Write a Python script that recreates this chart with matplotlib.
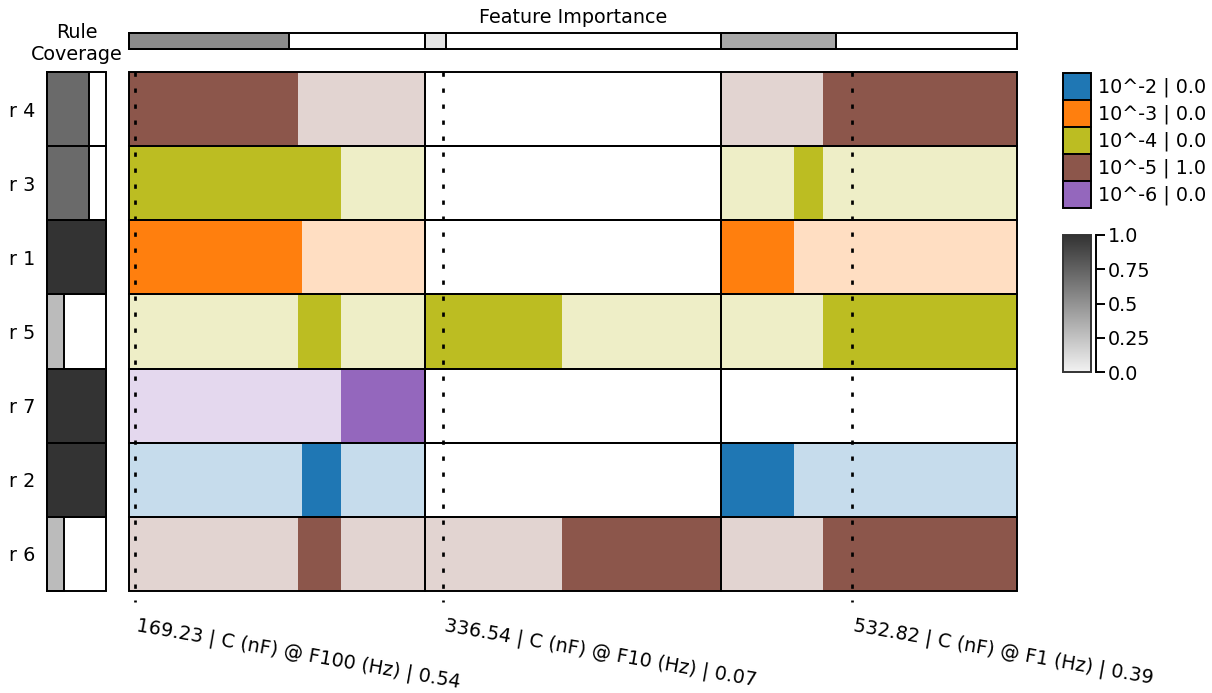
import matplotlib
matplotlib.use("Agg")
import matplotlib.pyplot as plt
from matplotlib.patches import Rectangle, Patch
from matplotlib.colors import LinearSegmentedColormap
import numpy as np

# ---- data -------------------------------------------------------------
features = ["C (nF) @ F100 (Hz)", "C (nF) @ F10 (Hz)", "C (nF) @ F1 (Hz)"]
importances = [0.54, 0.07, 0.39]
instance_values = [169.23, 336.54, 532.82]
# where the explained instance sits inside each feature's range (0..1)
instance_pos = [0.020, 0.061, 0.443]

rule_names = ["r 4", "r 3", "r 1", "r 5", "r 7", "r 2", "r 6"]
rule_class = [3, 2, 1, 2, 4, 0, 3]
rule_coverage = [0.71, 0.71, 1.0, 0.29, 1.0, 1.0, 0.29]
# per rule, per feature: covered interval as a fraction of the feature range
rule_conditions = [
    [(0.0, 0.572), None, (0.345, 1.0)],
    [(0.0, 0.716), None, (0.246, 0.345)],
    [(0.0, 0.585), None, (0.0, 0.246)],
    [(0.572, 0.716), (0.0, 0.464), (0.345, 1.0)],
    [(0.716, 1.0), None, None],
    [(0.585, 0.716), None, (0.0, 0.246)],
    [(0.572, 0.716), (0.464, 1.0), (0.345, 1.0)],
]

class_labels = ["10^-2", "10^-3", "10^-4", "10^-5", "10^-6"]
class_probs = [0.0, 0.0, 0.0, 1.0, 0.0]
class_colors = ["#1f77b4", "#ff7f0e", "#bcbd22", "#8c564b", "#9467bd"]

cbar_ticks = [0.0, 0.25, 0.5, 0.75, 1.0]
cbar_ticklabels = ["0.0", "0.25", "0.5", "0.75", "1.0"]

# ---- styling ----------------------------------------------------------
W, H, DPI = 1212, 693, 100
FS = 13.8
EDGE = "black"
LW = 1.4
PX = 72.0 / DPI  # one pixel in points

grey = LinearSegmentedColormap.from_list("cov", [(0.95, 0.95, 0.95), (0.2, 0.2, 0.2)])


def frame(x0, y0, x1, y1):
    return [x0 / W, 1 - y1 / H, (x1 - x0) / W, (y1 - y0) / H]


fig = plt.figure(figsize=(W / DPI, H / DPI), dpi=DPI)

# ---- rule x feature grid ---------------------------------------------
ax = fig.add_axes(frame(129, 72, 1017, 591))
ax.set_xlim(0, len(features))
ax.set_ylim(len(rule_names), 0)
ax.axis("off")
row_px = 519 / len(rule_names)

for i, conds in enumerate(rule_conditions):
    color = class_colors[rule_class[i]]
    for j, cond in enumerate(conds):
        if cond is not None:
            lo, hi = cond
            ax.add_patch(Rectangle((j, i), 1, 1, facecolor=color, alpha=0.25,
                                   edgecolor="none"))
            ax.add_patch(Rectangle((j + lo, i), hi - lo, 1, facecolor=color,
                                   edgecolor="none"))
        ax.add_patch(Rectangle((j, i), 1, 1, fill=False, edgecolor=EDGE,
                               lw=LW, clip_on=False, zorder=3))

for j in range(len(features)):
    x = j + instance_pos[j]
    ax.plot([x, x], [0, len(rule_names) + 11 / row_px], color="black",
            lw=2.7 * PX, linestyle=(0, (4.3 / 2.7, 11.7 / 2.7)),
            dash_capstyle="butt", clip_on=False, zorder=4)
    ax.text(x, len(rule_names) + 25 / row_px,
            f"{instance_values[j]:.2f} | {features[j]} | {importances[j]:.2f}",
            rotation=-10, ha="left", va="top", fontsize=FS)

# ---- feature importance bar -----------------------------------------
ax_imp = fig.add_axes(frame(129, 33, 1017, 49))
ax_imp.set_xlim(0, len(features))
ax_imp.set_ylim(0, 1)
ax_imp.axis("off")
for j, imp in enumerate(importances):
    ax_imp.add_patch(Rectangle((j, 0), imp, 1, facecolor=grey(imp),
                               edgecolor=EDGE, lw=LW, clip_on=False))
    ax_imp.add_patch(Rectangle((j, 0), 1, 1, fill=False, edgecolor=EDGE,
                               lw=LW, clip_on=False))
ax_imp.set_title("Feature Importance", fontsize=FS, pad=7)

# ---- rule coverage column -------------------------------------------
ax_cov = fig.add_axes(frame(47, 72, 106, 591))
ax_cov.set_xlim(0, 1)
ax_cov.set_ylim(len(rule_names), 0)
for i, cov in enumerate(rule_coverage):
    ax_cov.add_patch(Rectangle((0, i), cov, 1, facecolor=grey(cov),
                               edgecolor=EDGE, lw=LW, clip_on=False))
    ax_cov.add_patch(Rectangle((0, i), 1, 1, fill=False, edgecolor=EDGE,
                               lw=LW, clip_on=False))
for s in ax_cov.spines.values():
    s.set_visible(False)
ax_cov.set_xticks([])
ax_cov.set_yticks(np.arange(len(rule_names)) + 0.5)
ax_cov.set_yticklabels(rule_names, fontsize=FS)
ax_cov.tick_params(axis="y", length=0, pad=12 * PX)
fig.text(76.5 / W, 1 - 64 / H, "Rule\nCoverage", ha="center", va="bottom",
         fontsize=FS)

# ---- class legend ----------------------------------------------------
handles = [Patch(facecolor=c, edgecolor="black", lw=LW, label=f"{lab} | {p:.1f}")
           for c, lab, p in zip(class_colors, class_labels, class_probs)]
fig.legend(handles=handles, loc="upper left",
           bbox_to_anchor=(1063 / W, 1 - 73 / H), frameon=False,
           borderpad=0, borderaxespad=0, handlelength=1.46, handleheight=1.79,
           labelspacing=0, handletextpad=0.35, fontsize=FS)

# ---- coverage colour scale ------------------------------------------
cax = fig.add_axes(frame(1063, 235, 1091, 372))
grad = np.linspace(0, 1, 256)[:, None]
cax.imshow(grad, cmap=grey, aspect="auto", origin="lower", extent=[0, 1, 0, 1])
cax.set_xlim(0, 1)
cax.set_ylim(0, 1)
cax.set_xticks([])
for side in ("left", "top", "bottom"):
    cax.spines[side].set_visible(False)
cax.spines["right"].set_position(("outward", 5 * PX))
cax.spines["right"].set_linewidth(LW)
cax.yaxis.tick_right()
cax.set_yticks(cbar_ticks)
cax.set_yticklabels(cbar_ticklabels, fontsize=FS)
cax.tick_params(axis="y", length=8.5 * PX, width=LW, pad=3 * PX)
cax.add_patch(Rectangle((0, 0), 1, 1, transform=cax.transAxes, fill=False,
                        edgecolor="#333333", lw=LW, clip_on=False))

fig.savefig("out.png", dpi=DPI)
